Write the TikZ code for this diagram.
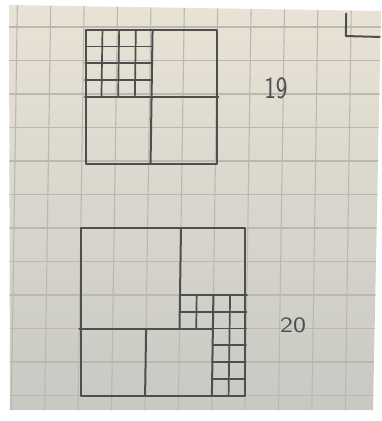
\documentclass[tikz,border=0pt]{standalone}
\usepackage{tikz}
\definecolor{paperTop}{HTML}{E9E3D5}
\definecolor{paperBottom}{HTML}{C8C9C4}
\definecolor{gridrule}{HTML}{BAB8B0}
\definecolor{pencil}{HTML}{4E4E4E}

\begin{document}
\begin{tikzpicture}[
    x={(33.4pt,0pt)},
    y={(-0.5pt,-33.5pt)},
    paper_rule/.style={draw=gridrule, line width=1.1pt},
    sketch/.style={draw=pencil, line width=2pt, line cap=round, line join=round},
    sketch_fine/.style={draw=pencil, line width=1.7pt, line cap=round},
    tag/.style={text=pencil, inner sep=0pt}
]

\useasboundingbox (-17pt,27pt) rectangle (364pt,-394pt);
\shade[top color=paperTop, bottom color=paperBottom]
    (-8pt,22pt) -- (364pt,16pt) -- (356pt,-383pt) -- (-7pt,-383pt) -- cycle;

\begin{scope}
\clip (-8pt,22pt) -- (364pt,16pt) -- (356pt,-383pt) -- (-7pt,-383pt) -- cycle;
\foreach \i in {-1,...,11} \draw[paper_rule] (\i,-1) -- (\i,12);
\foreach \j in {-1,...,12} \draw[paper_rule] (-1,\j) -- (11,\j);
\draw[sketch] (9.85,-0.4) -- (9.85,0.27) -- (11,0.3);
\end{scope}

\begin{scope}[shift={(0.06,0.08)}]
\draw[sketch] (2,0) rectangle (6,4);
\draw[sketch] (4,0) -- (4,4);
\draw[sketch] (2,2) -- (6,2);
\foreach \t in {0.5,1,1.5} {
    \draw[sketch_fine] (2+\t,0) -- (2+\t,2);
    \draw[sketch_fine] (2,\t) -- (4,\t);
}
\end{scope}

\draw[sketch] (2,6) rectangle (7,11);
\draw[sketch] (5,6) -- (5,9);
\draw[sketch] (2,9) -- (6,9);
\draw[sketch] (5,8) -- (7,8);
\draw[sketch] (6,8) -- (6,11);
\draw[sketch] (4,9) -- (4,11);
\draw[sketch_fine] (5.5,8) -- (5.5,9);
\draw[sketch_fine] (6.5,8) -- (6.5,11);
\foreach \t in {8.5,9,9.5,10,10.5} {
    \draw[sketch_fine] (6,\t) -- (7,\t);
}
\draw[sketch_fine] (5,8.5) -- (6,8.5);

\node[tag, font=\sffamily\fontsize{31}{31}\selectfont] (n19) at (7.78,1.82) {\scalebox{0.8}[1]{19}};
\node[tag, font=\sffamily\fontsize{22}{22}\selectfont] (n20) at (8.40,8.9) {\scalebox{1.25}[1]{20}};

\end{tikzpicture}
\end{document}
